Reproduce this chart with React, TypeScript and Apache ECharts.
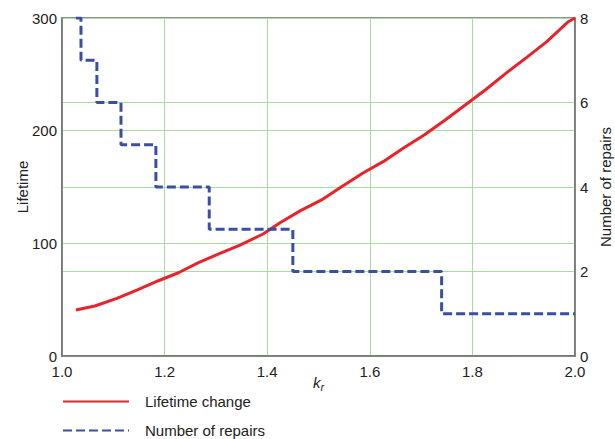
import React, { useEffect, useRef } from "react";
import * as echarts from "echarts";

const lifetimeK = [1.027, 1.064, 1.107, 1.147, 1.188, 1.227, 1.266, 1.308, 1.347, 1.392, 1.425, 1.465, 1.506, 1.545, 1.586, 1.626, 1.665, 1.706, 1.747, 1.786, 1.825, 1.867, 1.906, 1.945, 1.987, 2.0];
const lifetimeValues = [40.8, 44.4, 51.2, 58.6, 66.8, 73.9, 82.8, 91.1, 98.5, 108.3, 118.3, 129, 138.5, 150.3, 162.2, 172.5, 184.4, 196.2, 209.5, 222.8, 236.1, 251.5, 265.1, 279, 296.7, 300];

const repairsK = [1.027, 1.037, 1.068, 1.115, 1.183, 1.287, 1.45, 1.74, 2.0];
const repairsValues = [8, 7, 6, 5, 4, 3, 2, 1, 1];

const FONT = "Liberation Sans, Arial, sans-serif";
const GRID_GREEN = "#a9dca1";
const AXIS_GRAY = "#707070";

const legendBase = {
  orient: "horizontal",
  left: 62,
  padding: 0,
  itemWidth: 66,
  itemHeight: 14,
  itemStyle: { opacity: 0 },
  textStyle: { fontFamily: FONT, fontSize: 15, color: "#222", padding: [0, 0, 0, 11] },
};

export default function App() {
  const ref = useRef<HTMLDivElement>(null);
  useEffect(() => {
    if (!ref.current) return;
    const chart = echarts.init(ref.current, null, { renderer: "svg" });
    const lifeData = lifetimeK.map((k, i) => [k, lifetimeValues[i]]);
    const repData = repairsK.map((k, i) => [k, repairsValues[i]]);
    chart.setOption({
      animation: false,
      backgroundColor: "#ffffff",
      grid: {
        left: 62,
        right: 40,
        top: 18,
        bottom: 83,
        show: true,
        borderColor: AXIS_GRAY,
        borderWidth: 1.5,
        outerBoundsMode: "none",
        containLabel: false,
      },
      legend: [
        { ...legendBase, top: 394, data: ["Lifetime change"] },
        { ...legendBase, top: 423, data: ["Number of repairs"] },
      ],
      xAxis: {
        type: "value",
        min: 1.0,
        max: 2.0,
        interval: 0.2,
        name: "{k|k}{r|r}",
        nameLocation: "middle",
        nameGap: 17,
        nameMoveOverlap: false,
        nameTextStyle: {
          rich: {
            k: { fontFamily: FONT, fontSize: 15, fontStyle: "italic", color: "#222" },
            r: { fontFamily: FONT, fontSize: 11, fontStyle: "italic", color: "#222", verticalAlign: "bottom", padding: [8, 0, 0, 0] },
          },
        },
        axisLine: { show: true, lineStyle: { color: AXIS_GRAY, width: 1.5 } },
        axisTick: { show: false },
        axisLabel: {
          fontFamily: FONT,
          fontSize: 15,
          color: "#222",
          margin: 8,
          formatter: (v: number) => v.toFixed(1),
        },
        splitLine: { show: true, lineStyle: { color: GRID_GREEN, width: 1 } },
      },
      yAxis: [
        {
          type: "value",
          min: 0,
          max: 300,
          interval: 100,
          name: "Lifetime",
          nameLocation: "middle",
          nameGap: 32,
          nameMoveOverlap: false,
          nameTextStyle: { fontFamily: FONT, fontSize: 15, color: "#222" },
          axisLine: { show: true, lineStyle: { color: AXIS_GRAY, width: 1.5 } },
          axisTick: { show: false },
          axisLabel: { fontFamily: FONT, fontSize: 15, color: "#222", margin: 5 },
          splitLine: { show: true, lineStyle: { color: GRID_GREEN, width: 1 } },
        },
        {
          type: "value",
          min: 0,
          max: 8,
          interval: 2,
          name: "Number of repairs",
          nameLocation: "middle",
          nameGap: 23,
          nameRotate: 90,
          nameMoveOverlap: false,
          nameTextStyle: { fontFamily: FONT, fontSize: 15, color: "#222" },
          axisLine: { show: true, lineStyle: { color: AXIS_GRAY, width: 1.5 } },
          axisTick: { show: false },
          axisLabel: { fontFamily: FONT, fontSize: 15, color: "#222", margin: 5 },
          splitLine: { show: true, lineStyle: { color: GRID_GREEN, width: 1 } },
        },
      ],
      series: [
        {
          name: "Lifetime change",
          type: "line",
          yAxisIndex: 0,
          data: lifeData,
          symbol: "none",
          itemStyle: { color: "#e8232b" },
          lineStyle: { color: "#e8232b", width: 3 },
          z: 3,
        },
        {
          name: "Number of repairs",
          type: "line",
          yAxisIndex: 1,
          data: repData,
          step: "end",
          symbol: "none",
          itemStyle: { color: "#3a4fa3" },
          lineStyle: { color: "#3a4fa3", width: 3, type: [9, 4] },
          z: 4,
        },
      ],
    });
    return () => chart.dispose();
  }, []);
  return (
    <div
      ref={ref}
      style={{ position: "fixed", left: 0, top: 0, width: 615, height: 439 }}
    />
  );
}
